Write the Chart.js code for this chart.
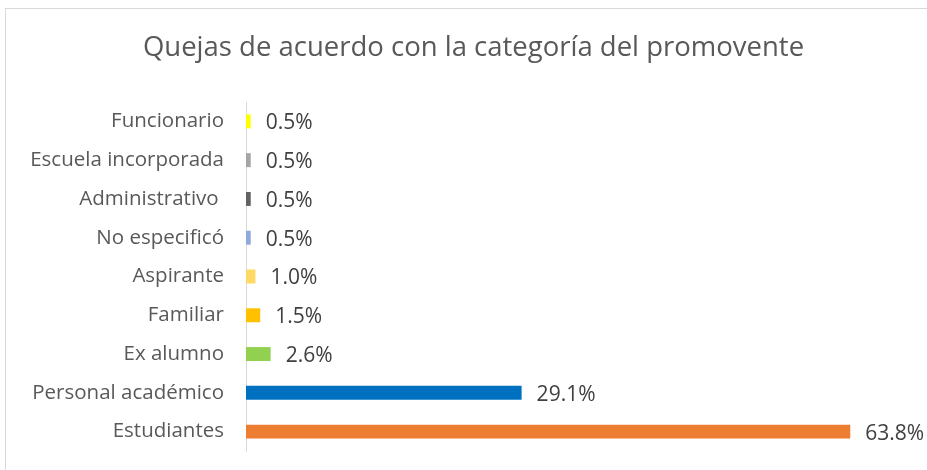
<!DOCTYPE html>
<html lang="es">
<head>
<meta charset="utf-8">
<title>Quejas por categoría del promovente</title>
<script src="https://cdn.jsdelivr.net/npm/chart.js@4/dist/chart.umd.min.js"></script>
<style>
  html, body { margin: 0; padding: 0; background: #fff; overflow: hidden; }
  #frame {
    position: absolute; left: 5px; top: 8px; width: 940px; height: 480px;
    border: 1px solid #d9d9d9; box-sizing: border-box;
  }
  #chart { position: absolute; left: 0; top: 0; }
</style>
</head>
<body>
<div id="frame"></div>
<canvas id="chart" width="927" height="470"></canvas>
<script>
// 데이터 (위에서 아래 순서)
var categories = [
  'Funcionario', 'Escuela incorporada', 'Administrativo ', 'No especificó',
  'Aspirante', 'Familiar', 'Ex alumno', 'Personal académico', 'Estudiantes'
];
var percentages = [0.5, 0.5, 0.5, 0.5, 1.0, 1.5, 2.6, 29.1, 63.8];
var barColors = [
  '#FFFF00', '#A5A5A5', '#636363', '#8FAADC',
  '#FFD966', '#FFC000', '#92D050', '#0070C0', '#ED7D31'
];
var chartTitle = 'Quejas de acuerdo con la categoría del promovente';

var FONT = '"Open Sans", "Noto Sans", sans-serif';

// bar 끝에 값 표시
var valueLabels = {
  id: 'valueLabels',
  afterDatasetsDraw: function (chart) {
    var ctx = chart.ctx;
    var meta = chart.getDatasetMeta(0);
    ctx.save();
    ctx.font = '21px ' + FONT;
    ctx.fillStyle = '#404040';
    ctx.textAlign = 'left';
    ctx.textBaseline = 'middle';
    meta.data.forEach(function (bar, i) {
      ctx.fillText(percentages[i].toFixed(1) + '%', bar.x + 15, bar.y + 2);
    });
    ctx.restore();
  }
};

// 제목을 조금 오른쪽으로
var titleShift = {
  id: 'titleShift',
  afterLayout: function (chart) {
    if (chart.titleBlock) chart.titleBlock.left = 38;
  }
};

new Chart(document.getElementById('chart').getContext('2d'), {
  type: 'bar',
  data: {
    labels: categories,
    datasets: [{
      data: percentages,
      backgroundColor: barColors,
      borderWidth: 0,
      barPercentage: 0.36,
      categoryPercentage: 1
    }]
  },
  options: {
    indexAxis: 'y',
    responsive: false,
    animation: false,
    layout: { padding: { left: 0, right: 18, top: 0, bottom: 19 } },
    scales: {
      x: {
        display: false,
        min: 0,
        max: 70
      },
      y: {
        // 축 폭 고정, 라벨 여백 제거
        afterFit: function (axis) {
          axis.width = 246;
          axis.paddingTop = 0;
          axis.paddingBottom = 0;
        },
        grid: { display: false, drawTicks: false },
        border: { display: true, color: '#d9d9d9', width: 1 },
        ticks: {
          color: '#595959',
          padding: 22,
          font: { family: FONT, size: 20.5 }
        }
      }
    },
    plugins: {
      legend: { display: false },
      tooltip: { enabled: false },
      title: {
        display: true,
        text: chartTitle,
        color: '#595959',
        font: { family: FONT, size: 27.5, weight: 'normal' },
        padding: { top: 32, bottom: 37 }
      }
    }
  },
  plugins: [valueLabels, titleShift]
});
</script>
</body>
</html>
